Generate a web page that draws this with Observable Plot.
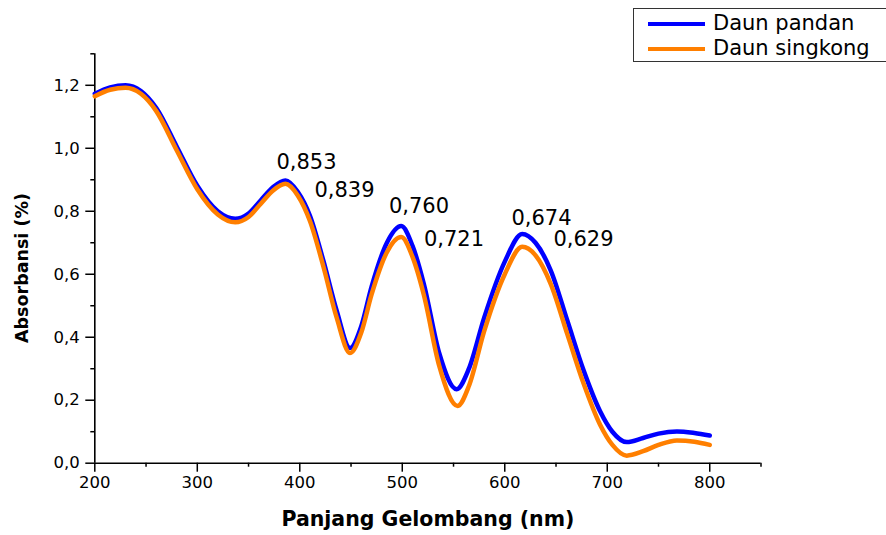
<!DOCTYPE html>
<html>
<head>
<meta charset="utf-8">
<script src="https://cdn.jsdelivr.net/npm/d3@7"></script>
<script src="https://cdn.jsdelivr.net/npm/@observablehq/plot@0.6"></script>
<style>
  html, body { margin: 0; padding: 0; background: #fff; overflow: hidden; }
  #wrap { position: relative; width: 886px; height: 535px; }
  #legend { position: absolute; left: 633px; top: 8px; width: 270px; height: 52px;
            border: 1px solid #333; background: #fff; font-family: "DejaVu Sans", sans-serif; font-size: 21px; }
  .item { position: absolute; left: 0; height: 25px; }
  .swatch { position: absolute; left: 14px; width: 57px; height: 4px; }
  .lab { position: absolute; left: 79px; white-space: nowrap; line-height: 25px; }
</style>
</head>
<body>
<div id="wrap">
  <div id="chart"></div>
  <div id="legend"></div>
</div>
<script>
// Wavelength (nm) and absorbance readings for each sample
const pandanX = [200,215,230,245,260,280,300,320,337,350,362,374,386,398,410,423,436,449,460,470,485,499,510,521,536,553,565,580,600,617,630,645,661,677,693,705,719,735,750,768,785,800];
const pandanY = [1.173,1.193,1.200,1.182,1.128,1.005,0.881,0.800,0.776,0.793,0.835,0.877,0.898,0.862,0.785,0.643,0.484,0.366,0.435,0.560,0.700,0.753,0.690,0.570,0.350,0.235,0.300,0.463,0.640,0.728,0.700,0.611,0.453,0.294,0.165,0.100,0.067,0.080,0.094,0.101,0.096,0.088];

const singkongX = [200,215,230,245,260,280,300,320,337,350,362,374,386,398,410,423,436,449,460,470,485,499,510,521,536,554,565,580,600,617,630,645,661,677,693,705,719,735,750,768,785,800];
const singkongY = [1.165,1.186,1.192,1.173,1.118,0.993,0.870,0.790,0.765,0.782,0.824,0.866,0.887,0.850,0.768,0.625,0.462,0.350,0.415,0.535,0.670,0.718,0.655,0.535,0.310,0.182,0.245,0.420,0.600,0.687,0.660,0.568,0.410,0.252,0.122,0.058,0.024,0.038,0.058,0.072,0.068,0.058];

// Peak annotations
const peakLabels = ["0,853","0,839","0,760","0,721","0,674","0,629"];
const peakLabelX = [406.5,443.6,516.3,550.5,635.8,676.8];
const peakLabelY = [0.955,0.868,0.817,0.712,0.779,0.712];

const xMajor = [200,300,400,500,600,700,800];
const xMinor = [250,350,450,550,650,750,850];
const yMajor = [0,0.2,0.4,0.6,0.8,1.0,1.2];
const yMinor = [0.1,0.3,0.5,0.7,0.9,1.1,1.3];

const seriesNames = ["Daun pandan","Daun singkong"];
const seriesColors = ["#0000ff","#ff7f00"];

const pandan = pandanX.map((x,i) => ({x, y: pandanY[i]}));
const singkong = singkongX.map((x,i) => ({x, y: singkongY[i]}));
const peaks = peakLabels.map((t,i) => ({t, x: peakLabelX[i], y: peakLabelY[i]}));

const fmtY = d => d.toFixed(1).replace(".", ",");

const chart = Plot.plot({
  width: 886,
  height: 535,
  marginLeft: 94.3,
  marginRight: 125.5,
  marginTop: 53.3,
  marginBottom: 72.3,
  style: {fontFamily: "DejaVu Sans, sans-serif", fontSize: "16.5px", color: "#000", background: "#fff"},
  x: {domain: [200, 850]},
  y: {domain: [0, 1.3]},
  marks: [
    Plot.axisX({ticks: xMajor, tickSize: 9, tickPadding: 4, tickFormat: d => String(d), label: null, strokeWidth: 1.5, fontSize: 16.5}),
    Plot.axisX({ticks: xMinor, tickSize: 4, tickFormat: () => "", label: null, strokeWidth: 1.5}),
    Plot.axisY({ticks: yMajor, tickSize: 9, tickPadding: 6, tickFormat: fmtY, label: null, strokeWidth: 1.5, fontSize: 16.5}),
    Plot.axisY({ticks: yMinor, tickSize: 4, tickFormat: () => "", label: null, strokeWidth: 1.5}),
    Plot.ruleY([0], {stroke: "#000", strokeWidth: 1.6}),
    Plot.ruleX([200], {stroke: "#000", strokeWidth: 1.6}),
    Plot.line(pandan, {x: "x", y: "y", stroke: seriesColors[0], strokeWidth: 4.5, curve: "monotone-x"}),
    Plot.line(singkong, {x: "x", y: "y", stroke: seriesColors[1], strokeWidth: 4.5, curve: "monotone-x"}),
    Plot.text(peaks, {x: "x", y: "y", text: "t", fontSize: 21, fill: "#000"}),
    Plot.text(["Panjang Gelombang (nm)"], {frameAnchor: "bottom", textAnchor: "middle", lineAnchor: "middle", dy: 56, fontSize: 20.5, fontWeight: "bold", fill: "#000"}),
    Plot.text(["Absorbansi (%)"], {frameAnchor: "left", textAnchor: "middle", lineAnchor: "middle", dx: -72, dy: 9.5, rotate: -90, fontSize: 17.5, fontWeight: "bold", fill: "#000"})
  ]
});
document.getElementById("chart").appendChild(chart);

const legend = document.getElementById("legend");
seriesNames.forEach((name, i) => {
  const item = document.createElement("div");
  item.className = "item";
  item.style.top = (2 + i * 25) + "px";
  const sw = document.createElement("div");
  sw.className = "swatch";
  sw.style.background = seriesColors[i];
  sw.style.top = "10.5px";
  const lab = document.createElement("div");
  lab.className = "lab";
  lab.textContent = name;
  item.appendChild(sw);
  item.appendChild(lab);
  legend.appendChild(item);
});
</script>
</body>
</html>
